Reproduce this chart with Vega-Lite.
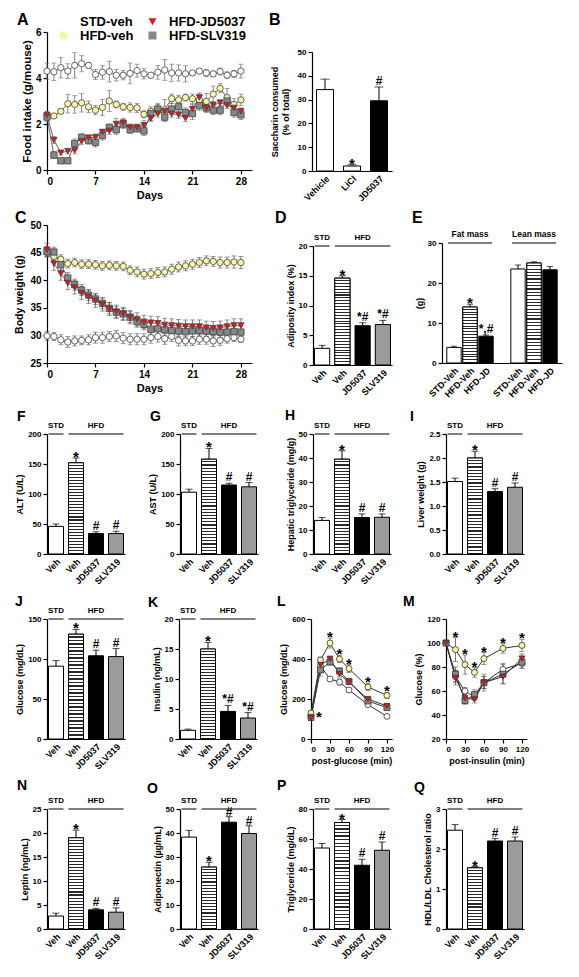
{
"$schema":"https://vega.github.io/schema/vega-lite/v6.json",
"autosize":"none",
"padding":{"left":47,"top":32,"right":532,"bottom":945},
"params":[
{"name":"h20","value":{"gradient":"linear","x1":0,"y1":0,"x2":0,"y2":1,"stops":[
{"offset":0,"color":"#fff"},{"offset":0.032,"color":"#fff"},{"offset":0.032,"color":"#2a2a2a"},{"offset":0.05,"color":"#2a2a2a"},
{"offset":0.05,"color":"#fff"},{"offset":0.082,"color":"#fff"},{"offset":0.082,"color":"#2a2a2a"},{"offset":0.1,"color":"#2a2a2a"},
{"offset":0.1,"color":"#fff"},{"offset":0.132,"color":"#fff"},{"offset":0.132,"color":"#2a2a2a"},{"offset":0.15,"color":"#2a2a2a"},
{"offset":0.15,"color":"#fff"},{"offset":0.182,"color":"#fff"},{"offset":0.182,"color":"#2a2a2a"},{"offset":0.2,"color":"#2a2a2a"},
{"offset":0.2,"color":"#fff"},{"offset":0.232,"color":"#fff"},{"offset":0.232,"color":"#2a2a2a"},{"offset":0.25,"color":"#2a2a2a"},
{"offset":0.25,"color":"#fff"},{"offset":0.282,"color":"#fff"},{"offset":0.282,"color":"#2a2a2a"},{"offset":0.3,"color":"#2a2a2a"},
{"offset":0.3,"color":"#fff"},{"offset":0.332,"color":"#fff"},{"offset":0.332,"color":"#2a2a2a"},{"offset":0.35,"color":"#2a2a2a"},
{"offset":0.35,"color":"#fff"},{"offset":0.382,"color":"#fff"},{"offset":0.382,"color":"#2a2a2a"},{"offset":0.4,"color":"#2a2a2a"},
{"offset":0.4,"color":"#fff"},{"offset":0.432,"color":"#fff"},{"offset":0.432,"color":"#2a2a2a"},{"offset":0.45,"color":"#2a2a2a"},
{"offset":0.45,"color":"#fff"},{"offset":0.482,"color":"#fff"},{"offset":0.482,"color":"#2a2a2a"},{"offset":0.5,"color":"#2a2a2a"},
{"offset":0.5,"color":"#fff"},{"offset":0.532,"color":"#fff"},{"offset":0.532,"color":"#2a2a2a"},{"offset":0.55,"color":"#2a2a2a"},
{"offset":0.55,"color":"#fff"},{"offset":0.582,"color":"#fff"},{"offset":0.582,"color":"#2a2a2a"},{"offset":0.6,"color":"#2a2a2a"},
{"offset":0.6,"color":"#fff"},{"offset":0.632,"color":"#fff"},{"offset":0.632,"color":"#2a2a2a"},{"offset":0.65,"color":"#2a2a2a"},
{"offset":0.65,"color":"#fff"},{"offset":0.682,"color":"#fff"},{"offset":0.682,"color":"#2a2a2a"},{"offset":0.7,"color":"#2a2a2a"},
{"offset":0.7,"color":"#fff"},{"offset":0.732,"color":"#fff"},{"offset":0.732,"color":"#2a2a2a"},{"offset":0.75,"color":"#2a2a2a"},
{"offset":0.75,"color":"#fff"},{"offset":0.782,"color":"#fff"},{"offset":0.782,"color":"#2a2a2a"},{"offset":0.8,"color":"#2a2a2a"},
{"offset":0.8,"color":"#fff"},{"offset":0.832,"color":"#fff"},{"offset":0.832,"color":"#2a2a2a"},{"offset":0.85,"color":"#2a2a2a"},
{"offset":0.85,"color":"#fff"},{"offset":0.882,"color":"#fff"},{"offset":0.882,"color":"#2a2a2a"},{"offset":0.9,"color":"#2a2a2a"},
{"offset":0.9,"color":"#fff"},{"offset":0.932,"color":"#fff"},{"offset":0.932,"color":"#2a2a2a"},{"offset":0.95,"color":"#2a2a2a"},
{"offset":0.95,"color":"#fff"},{"offset":0.982,"color":"#fff"},{"offset":0.982,"color":"#2a2a2a"},{"offset":1,"color":"#2a2a2a"}]}},
{"name":"h30","value":{"gradient":"linear","x1":0,"y1":0,"x2":0,"y2":1,"stops":[
{"offset":0,"color":"#fff"},{"offset":0.0217,"color":"#fff"},{"offset":0.0217,"color":"#2a2a2a"},{"offset":0.0333,"color":"#2a2a2a"},
{"offset":0.0333,"color":"#fff"},{"offset":0.055,"color":"#fff"},{"offset":0.055,"color":"#2a2a2a"},{"offset":0.0667,"color":"#2a2a2a"},
{"offset":0.0667,"color":"#fff"},{"offset":0.0883,"color":"#fff"},{"offset":0.0883,"color":"#2a2a2a"},{"offset":0.1,"color":"#2a2a2a"},
{"offset":0.1,"color":"#fff"},{"offset":0.1217,"color":"#fff"},{"offset":0.1217,"color":"#2a2a2a"},{"offset":0.1333,"color":"#2a2a2a"},
{"offset":0.1333,"color":"#fff"},{"offset":0.155,"color":"#fff"},{"offset":0.155,"color":"#2a2a2a"},{"offset":0.1667,"color":"#2a2a2a"},
{"offset":0.1667,"color":"#fff"},{"offset":0.1883,"color":"#fff"},{"offset":0.1883,"color":"#2a2a2a"},{"offset":0.2,"color":"#2a2a2a"},
{"offset":0.2,"color":"#fff"},{"offset":0.2217,"color":"#fff"},{"offset":0.2217,"color":"#2a2a2a"},{"offset":0.2333,"color":"#2a2a2a"},
{"offset":0.2333,"color":"#fff"},{"offset":0.255,"color":"#fff"},{"offset":0.255,"color":"#2a2a2a"},{"offset":0.2667,"color":"#2a2a2a"},
{"offset":0.2667,"color":"#fff"},{"offset":0.2883,"color":"#fff"},{"offset":0.2883,"color":"#2a2a2a"},{"offset":0.3,"color":"#2a2a2a"},
{"offset":0.3,"color":"#fff"},{"offset":0.3217,"color":"#fff"},{"offset":0.3217,"color":"#2a2a2a"},{"offset":0.3333,"color":"#2a2a2a"},
{"offset":0.3333,"color":"#fff"},{"offset":0.355,"color":"#fff"},{"offset":0.355,"color":"#2a2a2a"},{"offset":0.3667,"color":"#2a2a2a"},
{"offset":0.3667,"color":"#fff"},{"offset":0.3883,"color":"#fff"},{"offset":0.3883,"color":"#2a2a2a"},{"offset":0.4,"color":"#2a2a2a"},
{"offset":0.4,"color":"#fff"},{"offset":0.4217,"color":"#fff"},{"offset":0.4217,"color":"#2a2a2a"},{"offset":0.4333,"color":"#2a2a2a"},
{"offset":0.4333,"color":"#fff"},{"offset":0.455,"color":"#fff"},{"offset":0.455,"color":"#2a2a2a"},{"offset":0.4667,"color":"#2a2a2a"},
{"offset":0.4667,"color":"#fff"},{"offset":0.4883,"color":"#fff"},{"offset":0.4883,"color":"#2a2a2a"},{"offset":0.5,"color":"#2a2a2a"},
{"offset":0.5,"color":"#fff"},{"offset":0.5217,"color":"#fff"},{"offset":0.5217,"color":"#2a2a2a"},{"offset":0.5333,"color":"#2a2a2a"},
{"offset":0.5333,"color":"#fff"},{"offset":0.555,"color":"#fff"},{"offset":0.555,"color":"#2a2a2a"},{"offset":0.5667,"color":"#2a2a2a"},
{"offset":0.5667,"color":"#fff"},{"offset":0.5883,"color":"#fff"},{"offset":0.5883,"color":"#2a2a2a"},{"offset":0.6,"color":"#2a2a2a"},
{"offset":0.6,"color":"#fff"},{"offset":0.6217,"color":"#fff"},{"offset":0.6217,"color":"#2a2a2a"},{"offset":0.6333,"color":"#2a2a2a"},
{"offset":0.6333,"color":"#fff"},{"offset":0.655,"color":"#fff"},{"offset":0.655,"color":"#2a2a2a"},{"offset":0.6667,"color":"#2a2a2a"},
{"offset":0.6667,"color":"#fff"},{"offset":0.6883,"color":"#fff"},{"offset":0.6883,"color":"#2a2a2a"},{"offset":0.7,"color":"#2a2a2a"},
{"offset":0.7,"color":"#fff"},{"offset":0.7217,"color":"#fff"},{"offset":0.7217,"color":"#2a2a2a"},{"offset":0.7333,"color":"#2a2a2a"},
{"offset":0.7333,"color":"#fff"},{"offset":0.755,"color":"#fff"},{"offset":0.755,"color":"#2a2a2a"},{"offset":0.7667,"color":"#2a2a2a"},
{"offset":0.7667,"color":"#fff"},{"offset":0.7883,"color":"#fff"},{"offset":0.7883,"color":"#2a2a2a"},{"offset":0.8,"color":"#2a2a2a"},
{"offset":0.8,"color":"#fff"},{"offset":0.8217,"color":"#fff"},{"offset":0.8217,"color":"#2a2a2a"},{"offset":0.8333,"color":"#2a2a2a"},
{"offset":0.8333,"color":"#fff"},{"offset":0.855,"color":"#fff"},{"offset":0.855,"color":"#2a2a2a"},{"offset":0.8667,"color":"#2a2a2a"},
{"offset":0.8667,"color":"#fff"},{"offset":0.8883,"color":"#fff"},{"offset":0.8883,"color":"#2a2a2a"},{"offset":0.9,"color":"#2a2a2a"},
{"offset":0.9,"color":"#fff"},{"offset":0.9217,"color":"#fff"},{"offset":0.9217,"color":"#2a2a2a"},{"offset":0.9333,"color":"#2a2a2a"},
{"offset":0.9333,"color":"#fff"},{"offset":0.955,"color":"#fff"},{"offset":0.955,"color":"#2a2a2a"},{"offset":0.9667,"color":"#2a2a2a"},
{"offset":0.9667,"color":"#fff"},{"offset":0.9883,"color":"#fff"},{"offset":0.9883,"color":"#2a2a2a"},{"offset":1,"color":"#2a2a2a"}]}}
],
"config":{
"font":"Liberation Sans",
"view":{"stroke":null},
"axis":{"domainColor":"#000","domainWidth":1.2,"tickColor":"#000","tickWidth":1.2,"tickSize":4,"labelFontWeight":"bold","labelFontSize":8,"labelColor":"#000","labelPadding":2,"titleFontWeight":"bold","titleFontSize":9,"titleColor":"#000","titlePadding":3,"grid":false},
"axisBand":{"labelAngle":-45,"ticks":false,"labelFontSize":9,"labelPadding":3},
"title":{"fontSize":14,"fontWeight":"bold","anchor":"start","frame":"group","color":"#000","baseline":"alphabetic","offset":0},
"bar":{"stroke":"#000","strokeWidth":1},
"rule":{"color":"#000"},
"tick":{"color":"#000"},
"text":{"fontWeight":"bold","color":"#000"}
},
"spacing":6,
"vconcat":[
{"hconcat":[
{"width":205,"height":138,
"title":{"text":"A","dx":-30,"offset":-0.75,"fontSize":16},
"data":{"values":[
{"k":"STD-veh","d":0,"v":4.3,"e":0.35},{"k":"STD-veh","d":1,"v":4.27,"e":0.38},{"k":"STD-veh","d":2,"v":4.45,"e":0.45},{"k":"STD-veh","d":3,"v":4.3,"e":0.32},{"k":"STD-veh","d":4,"v":4.55,"e":0.55},{"k":"STD-veh","d":5,"v":4.62,"e":0.35},{"k":"STD-veh","d":6,"v":4.55,"e":0.12},{"k":"STD-veh","d":7,"v":4.15,"e":0.22},{"k":"STD-veh","d":8,"v":4.25,"e":0.3},{"k":"STD-veh","d":9,"v":4.28,"e":0.45},{"k":"STD-veh","d":10,"v":4.12,"e":0.25},{"k":"STD-veh","d":11,"v":4.12,"e":0.2},{"k":"STD-veh","d":12,"v":4.2,"e":0.45},{"k":"STD-veh","d":13,"v":4.32,"e":0.28},{"k":"STD-veh","d":14,"v":4.18,"e":0.22},{"k":"STD-veh","d":15,"v":4.12,"e":0.12},{"k":"STD-veh","d":16,"v":4.25,"e":0.3},{"k":"STD-veh","d":17,"v":4.35,"e":0.45},{"k":"STD-veh","d":18,"v":4.22,"e":0.38},{"k":"STD-veh","d":19,"v":4.22,"e":0.35},{"k":"STD-veh","d":20,"v":4.18,"e":0.35},{"k":"STD-veh","d":21,"v":4.22,"e":0.1},{"k":"STD-veh","d":22,"v":4.3,"e":0.1},{"k":"STD-veh","d":23,"v":4.22,"e":0.15},{"k":"STD-veh","d":24,"v":4.18,"e":0.12},{"k":"STD-veh","d":25,"v":4.28,"e":0.15},{"k":"STD-veh","d":26,"v":4.12,"e":0.15},{"k":"STD-veh","d":27,"v":4.18,"e":0.15},{"k":"STD-veh","d":28,"v":4.3,"e":0.3},
{"k":"HFD-veh","d":0,"v":2.4,"e":0.12},{"k":"HFD-veh","d":1,"v":2.35,"e":0.1},{"k":"HFD-veh","d":2,"v":2.55,"e":0.1},{"k":"HFD-veh","d":3,"v":2.88,"e":0.4},{"k":"HFD-veh","d":4,"v":2.85,"e":0.38},{"k":"HFD-veh","d":5,"v":2.92,"e":0.4},{"k":"HFD-veh","d":6,"v":2.75,"e":0.25},{"k":"HFD-veh","d":7,"v":2.6,"e":0.2},{"k":"HFD-veh","d":8,"v":2.72,"e":0.35},{"k":"HFD-veh","d":9,"v":3.0,"e":0.45},{"k":"HFD-veh","d":10,"v":2.85,"e":0.15},{"k":"HFD-veh","d":11,"v":2.75,"e":0.15},{"k":"HFD-veh","d":12,"v":2.72,"e":0.2},{"k":"HFD-veh","d":13,"v":2.7,"e":0.2},{"k":"HFD-veh","d":14,"v":2.42,"e":0.15},{"k":"HFD-veh","d":15,"v":2.55,"e":0.1},{"k":"HFD-veh","d":16,"v":2.65,"e":0.2},{"k":"HFD-veh","d":17,"v":2.62,"e":0.45},{"k":"HFD-veh","d":18,"v":3.1,"e":0.2},{"k":"HFD-veh","d":19,"v":3.05,"e":0.2},{"k":"HFD-veh","d":20,"v":3.15,"e":0.15},{"k":"HFD-veh","d":21,"v":3.1,"e":0.2},{"k":"HFD-veh","d":22,"v":3.05,"e":0.3},{"k":"HFD-veh","d":23,"v":2.98,"e":0.35},{"k":"HFD-veh","d":24,"v":3.3,"e":0.35},{"k":"HFD-veh","d":25,"v":3.55,"e":0.2},{"k":"HFD-veh","d":26,"v":3.15,"e":0.4},{"k":"HFD-veh","d":27,"v":2.85,"e":0.25},{"k":"HFD-veh","d":28,"v":3.05,"e":0.25},
{"k":"HFD-SLV319","d":0,"v":2.3,"e":0.2},{"k":"HFD-SLV319","d":1,"v":0.65,"e":0.15},{"k":"HFD-SLV319","d":2,"v":0.4,"e":0.1},{"k":"HFD-SLV319","d":3,"v":0.4,"e":0.1},{"k":"HFD-SLV319","d":4,"v":1.15,"e":0.2},{"k":"HFD-SLV319","d":5,"v":1.42,"e":0.15},{"k":"HFD-SLV319","d":6,"v":1.28,"e":0.15},{"k":"HFD-SLV319","d":7,"v":1.2,"e":0.2},{"k":"HFD-SLV319","d":8,"v":1.5,"e":0.2},{"k":"HFD-SLV319","d":9,"v":1.85,"e":0.15},{"k":"HFD-SLV319","d":10,"v":1.75,"e":0.2},{"k":"HFD-SLV319","d":11,"v":2.0,"e":0.2},{"k":"HFD-SLV319","d":12,"v":1.75,"e":0.15},{"k":"HFD-SLV319","d":13,"v":1.8,"e":0.15},{"k":"HFD-SLV319","d":14,"v":1.7,"e":0.2},{"k":"HFD-SLV319","d":15,"v":2.45,"e":0.3},{"k":"HFD-SLV319","d":16,"v":2.65,"e":0.25},{"k":"HFD-SLV319","d":17,"v":2.3,"e":0.2},{"k":"HFD-SLV319","d":18,"v":2.65,"e":0.25},{"k":"HFD-SLV319","d":19,"v":2.75,"e":0.25},{"k":"HFD-SLV319","d":20,"v":2.5,"e":0.2},{"k":"HFD-SLV319","d":21,"v":2.45,"e":0.25},{"k":"HFD-SLV319","d":22,"v":2.8,"e":0.2},{"k":"HFD-SLV319","d":23,"v":2.7,"e":0.2},{"k":"HFD-SLV319","d":24,"v":2.6,"e":0.2},{"k":"HFD-SLV319","d":25,"v":2.6,"e":0.2},{"k":"HFD-SLV319","d":26,"v":3.0,"e":0.2},{"k":"HFD-SLV319","d":27,"v":2.5,"e":0.2},{"k":"HFD-SLV319","d":28,"v":2.4,"e":0.2},
{"k":"HFD-JD5037","d":0,"v":2.38,"e":0.15},{"k":"HFD-JD5037","d":1,"v":1.3,"e":0.15},{"k":"HFD-JD5037","d":2,"v":0.75,"e":0.1},{"k":"HFD-JD5037","d":3,"v":0.82,"e":0.12},{"k":"HFD-JD5037","d":4,"v":0.85,"e":0.15},{"k":"HFD-JD5037","d":5,"v":1.25,"e":0.15},{"k":"HFD-JD5037","d":6,"v":1.4,"e":0.12},{"k":"HFD-JD5037","d":7,"v":1.42,"e":0.15},{"k":"HFD-JD5037","d":8,"v":1.65,"e":0.12},{"k":"HFD-JD5037","d":9,"v":1.7,"e":0.15},{"k":"HFD-JD5037","d":10,"v":2.0,"e":0.25},{"k":"HFD-JD5037","d":11,"v":2.05,"e":0.2},{"k":"HFD-JD5037","d":12,"v":1.85,"e":0.15},{"k":"HFD-JD5037","d":13,"v":1.85,"e":0.15},{"k":"HFD-JD5037","d":14,"v":1.95,"e":0.2},{"k":"HFD-JD5037","d":15,"v":2.25,"e":0.15},{"k":"HFD-JD5037","d":16,"v":2.45,"e":0.15},{"k":"HFD-JD5037","d":17,"v":2.55,"e":0.15},{"k":"HFD-JD5037","d":18,"v":2.45,"e":0.15},{"k":"HFD-JD5037","d":19,"v":2.4,"e":0.15},{"k":"HFD-JD5037","d":20,"v":2.25,"e":0.15},{"k":"HFD-JD5037","d":21,"v":2.65,"e":0.2},{"k":"HFD-JD5037","d":22,"v":3.15,"e":0.15},{"k":"HFD-JD5037","d":23,"v":2.7,"e":0.15},{"k":"HFD-JD5037","d":24,"v":2.82,"e":0.15},{"k":"HFD-JD5037","d":25,"v":2.92,"e":0.15},{"k":"HFD-JD5037","d":26,"v":2.82,"e":0.15},{"k":"HFD-JD5037","d":27,"v":2.7,"e":0.15},{"k":"HFD-JD5037","d":28,"v":2.55,"e":0.15}
]},
"encoding":{
"x":{"field":"d","type":"quantitative","scale":{"domain":[0,29.6],"nice":false},"axis":{"values":[0,7,14,21,28],"title":"Days","labelFontSize":10,"titleFontSize":11}},
"y":{"field":"v","type":"quantitative","scale":{"domain":[0,6],"nice":false},"axis":{"values":[0,2,4,6],"title":"Food intake (g/mouse)","labelFontSize":10,"titleFontSize":11.5}}},
"layer":[
{"mark":{"type":"line","color":"#444","strokeWidth":0.8},"encoding":{"detail":{"field":"k"}}},
{"mark":{"type":"errorbar","ticks":true,"size":5,"thickness":0.8,"color":"#666"},"encoding":{"yError":{"field":"e"}}},
{"mark":{"type":"point","filled":true,"size":40,"stroke":"#444","strokeWidth":0.8,"opacity":1},"encoding":{
"fill":{"field":"k","type":"nominal","scale":{"domain":["STD-veh","HFD-JD5037","HFD-veh","HFD-SLV319"],"range":["#ffffff","#e4151c","#f8f6a6","#888888"]},"legend":{"orient":"none","legendX":10,"legendY":-17,"columns":2,"direction":"horizontal","title":null,"labelFontSize":13,"labelFontWeight":"bold","labelColor":"#000","symbolSize":64,"symbolStrokeColor":"#444","symbolStrokeWidth":1,"columnPadding":12,"rowPadding":0,"labelOffset":10,"padding":0}},
"shape":{"field":"k","type":"nominal","scale":{"domain":["STD-veh","HFD-JD5037","HFD-veh","HFD-SLV319"],"range":["circle","triangle-down","circle","square"]},"legend":{"orient":"none","legendX":10,"legendY":-17,"columns":2,"direction":"horizontal","title":null,"labelFontSize":13,"labelFontWeight":"bold","labelColor":"#000","symbolSize":64,"symbolStrokeColor":"#444","symbolStrokeWidth":1,"columnPadding":12,"rowPadding":0,"labelOffset":10,"padding":0}}}}
]},
{"width":80,"height":139,
"title":{"text":"B","dx":-43,"offset":4.25,"fontSize":16},
"data":{"values":[{"g":"Vehicle","v":34.2,"hi":38.6,"s":""},{"g":"LiCl","v":2.1,"hi":2.6,"s":"*"},{"g":"JD5037","v":29.5,"hi":35.3,"s":"#"}]},
"encoding":{
"x":{"field":"g","type":"nominal","scale":{"domain":["Vehicle","LiCl","JD5037"],"paddingInner":0.37,"paddingOuter":0.167},"axis":{"title":null}},
"y":{"field":"v","type":"quantitative","scale":{"domain":[0,50],"nice":false,"range":[139,20]},"axis":{"values":[0,10,20,30,40,50],"title":["Saccharin consumed","(% of total)"],"titlePadding":7}}},
"layer":[
{"mark":"rule","encoding":{"y2":{"field":"hi"}}},
{"mark":{"type":"tick","size":9,"thickness":1},"encoding":{"y":{"field":"hi","type":"quantitative"}}},
{"mark":"bar","encoding":{"fill":{"condition":[{"test":"datum.g=='JD5037'","value":"#000"}],"value":"#fff"}}},
{"transform":[{"filter":"datum.s=='*'"}],"mark":{"type":"text","baseline":"alphabetic","dy":4,"fontSize":15},"encoding":{"y":{"field":"hi","type":"quantitative"},"text":{"field":"s"}}},
{"transform":[{"filter":"datum.s!='*' && datum.s!=''"}],"mark":{"type":"text","baseline":"alphabetic","dy":-2,"fontSize":12},"encoding":{"y":{"field":"hi","type":"quantitative"},"text":{"field":"s"}}}
]}
],"spacing":60,"bounds":"flush"},
{"spacing":10,"vconcat":[
{"hconcat":[
{"width":216,"height":138,
"title":{"text":"C","dx":-32,"offset":-5.75,"fontSize":16},
"data":{"values":[
{"k":"STD-veh","d":0,"v":29.9,"e":0.8},{"k":"STD-veh","d":1,"v":29.8,"e":0.7},{"k":"STD-veh","d":2,"v":29.2,"e":0.9},{"k":"STD-veh","d":3,"v":28.8,"e":1.0},{"k":"STD-veh","d":4,"v":29.0,"e":0.9},{"k":"STD-veh","d":5,"v":29.1,"e":0.8},{"k":"STD-veh","d":6,"v":29.2,"e":0.9},{"k":"STD-veh","d":7,"v":29.6,"e":1.0},{"k":"STD-veh","d":8,"v":29.6,"e":1.0},{"k":"STD-veh","d":9,"v":29.8,"e":0.9},{"k":"STD-veh","d":10,"v":29.9,"e":1.0},{"k":"STD-veh","d":11,"v":29.5,"e":1.0},{"k":"STD-veh","d":12,"v":29.3,"e":1.0},{"k":"STD-veh","d":13,"v":29.3,"e":1.0},{"k":"STD-veh","d":14,"v":29.3,"e":1.0},{"k":"STD-veh","d":15,"v":29.6,"e":1.0},{"k":"STD-veh","d":16,"v":29.8,"e":1.0},{"k":"STD-veh","d":17,"v":29.4,"e":1.0},{"k":"STD-veh","d":18,"v":29.8,"e":0.9},{"k":"STD-veh","d":19,"v":29.1,"e":1.0},{"k":"STD-veh","d":20,"v":29.0,"e":0.9},{"k":"STD-veh","d":21,"v":29.0,"e":0.8},{"k":"STD-veh","d":22,"v":29.3,"e":0.9},{"k":"STD-veh","d":23,"v":29.3,"e":0.9},{"k":"STD-veh","d":24,"v":29.0,"e":1.0},{"k":"STD-veh","d":25,"v":29.1,"e":0.9},{"k":"STD-veh","d":26,"v":29.4,"e":0.8},{"k":"STD-veh","d":27,"v":29.6,"e":0.7},{"k":"STD-veh","d":28,"v":29.3,"e":0.6},
{"k":"HFD-veh","d":0,"v":45.0,"e":0.8},{"k":"HFD-veh","d":1,"v":44.3,"e":0.8},{"k":"HFD-veh","d":2,"v":43.8,"e":0.8},{"k":"HFD-veh","d":3,"v":43.0,"e":0.8},{"k":"HFD-veh","d":4,"v":43.2,"e":0.8},{"k":"HFD-veh","d":5,"v":42.9,"e":0.8},{"k":"HFD-veh","d":6,"v":42.9,"e":0.8},{"k":"HFD-veh","d":7,"v":42.8,"e":0.8},{"k":"HFD-veh","d":8,"v":42.6,"e":0.8},{"k":"HFD-veh","d":9,"v":42.7,"e":0.8},{"k":"HFD-veh","d":10,"v":42.6,"e":0.8},{"k":"HFD-veh","d":11,"v":42.5,"e":0.8},{"k":"HFD-veh","d":12,"v":41.8,"e":0.8},{"k":"HFD-veh","d":13,"v":41.5,"e":0.9},{"k":"HFD-veh","d":14,"v":41.1,"e":0.9},{"k":"HFD-veh","d":15,"v":41.2,"e":0.9},{"k":"HFD-veh","d":16,"v":41.4,"e":0.9},{"k":"HFD-veh","d":17,"v":41.5,"e":0.9},{"k":"HFD-veh","d":18,"v":42.0,"e":0.9},{"k":"HFD-veh","d":19,"v":42.4,"e":0.9},{"k":"HFD-veh","d":20,"v":42.6,"e":0.9},{"k":"HFD-veh","d":21,"v":42.9,"e":0.9},{"k":"HFD-veh","d":22,"v":43.2,"e":0.9},{"k":"HFD-veh","d":23,"v":43.5,"e":0.9},{"k":"HFD-veh","d":24,"v":43.4,"e":0.9},{"k":"HFD-veh","d":25,"v":43.2,"e":1.0},{"k":"HFD-veh","d":26,"v":43.2,"e":1.0},{"k":"HFD-veh","d":27,"v":43.3,"e":1.1},{"k":"HFD-veh","d":28,"v":43.2,"e":1.1},
{"k":"HFD-SLV319","d":0,"v":45.2,"e":0.9},{"k":"HFD-SLV319","d":1,"v":45.1,"e":0.9},{"k":"HFD-SLV319","d":2,"v":42.8,"e":1.0},{"k":"HFD-SLV319","d":3,"v":40.4,"e":1.0},{"k":"HFD-SLV319","d":4,"v":39.2,"e":1.0},{"k":"HFD-SLV319","d":5,"v":38.2,"e":1.0},{"k":"HFD-SLV319","d":6,"v":37.3,"e":1.0},{"k":"HFD-SLV319","d":7,"v":36.6,"e":1.0},{"k":"HFD-SLV319","d":8,"v":35.8,"e":1.0},{"k":"HFD-SLV319","d":9,"v":34.9,"e":1.0},{"k":"HFD-SLV319","d":10,"v":34.2,"e":1.0},{"k":"HFD-SLV319","d":11,"v":33.9,"e":1.0},{"k":"HFD-SLV319","d":12,"v":33.3,"e":1.0},{"k":"HFD-SLV319","d":13,"v":32.5,"e":1.0},{"k":"HFD-SLV319","d":14,"v":32.0,"e":1.0},{"k":"HFD-SLV319","d":15,"v":31.1,"e":1.0},{"k":"HFD-SLV319","d":16,"v":31.2,"e":1.0},{"k":"HFD-SLV319","d":17,"v":31.0,"e":1.0},{"k":"HFD-SLV319","d":18,"v":30.9,"e":1.0},{"k":"HFD-SLV319","d":19,"v":30.8,"e":1.0},{"k":"HFD-SLV319","d":20,"v":30.7,"e":1.0},{"k":"HFD-SLV319","d":21,"v":30.8,"e":1.0},{"k":"HFD-SLV319","d":22,"v":30.9,"e":1.0},{"k":"HFD-SLV319","d":23,"v":30.8,"e":1.0},{"k":"HFD-SLV319","d":24,"v":30.7,"e":1.0},{"k":"HFD-SLV319","d":25,"v":30.6,"e":1.0},{"k":"HFD-SLV319","d":26,"v":30.6,"e":1.0},{"k":"HFD-SLV319","d":27,"v":30.7,"e":1.0},{"k":"HFD-SLV319","d":28,"v":30.6,"e":1.0},
{"k":"HFD-JD5037","d":0,"v":45.5,"e":1.2},{"k":"HFD-JD5037","d":1,"v":43.0,"e":1.2},{"k":"HFD-JD5037","d":2,"v":41.2,"e":1.2},{"k":"HFD-JD5037","d":3,"v":39.5,"e":1.2},{"k":"HFD-JD5037","d":4,"v":38.7,"e":1.2},{"k":"HFD-JD5037","d":5,"v":37.7,"e":1.2},{"k":"HFD-JD5037","d":6,"v":37.0,"e":1.2},{"k":"HFD-JD5037","d":7,"v":36.3,"e":1.2},{"k":"HFD-JD5037","d":8,"v":35.6,"e":1.2},{"k":"HFD-JD5037","d":9,"v":34.8,"e":1.2},{"k":"HFD-JD5037","d":10,"v":34.3,"e":1.2},{"k":"HFD-JD5037","d":11,"v":33.9,"e":1.2},{"k":"HFD-JD5037","d":12,"v":33.3,"e":1.2},{"k":"HFD-JD5037","d":13,"v":32.9,"e":1.2},{"k":"HFD-JD5037","d":14,"v":32.4,"e":1.2},{"k":"HFD-JD5037","d":15,"v":32.3,"e":1.2},{"k":"HFD-JD5037","d":16,"v":32.2,"e":1.2},{"k":"HFD-JD5037","d":17,"v":31.9,"e":1.2},{"k":"HFD-JD5037","d":18,"v":31.8,"e":1.2},{"k":"HFD-JD5037","d":19,"v":31.7,"e":1.2},{"k":"HFD-JD5037","d":20,"v":31.6,"e":1.2},{"k":"HFD-JD5037","d":21,"v":31.6,"e":1.2},{"k":"HFD-JD5037","d":22,"v":31.6,"e":1.2},{"k":"HFD-JD5037","d":23,"v":31.4,"e":1.2},{"k":"HFD-JD5037","d":24,"v":31.3,"e":1.2},{"k":"HFD-JD5037","d":25,"v":31.4,"e":1.2},{"k":"HFD-JD5037","d":26,"v":31.6,"e":1.2},{"k":"HFD-JD5037","d":27,"v":31.8,"e":1.2},{"k":"HFD-JD5037","d":28,"v":31.8,"e":1.2}
]},
"encoding":{
"x":{"field":"d","type":"quantitative","scale":{"domain":[0,29.6],"nice":false,"range":[0,205]},"axis":{"values":[0,7,14,21,28],"title":"Days","labelFontSize":10,"titleFontSize":11}},
"y":{"field":"v","type":"quantitative","scale":{"domain":[25,50],"nice":false,"zero":false},"axis":{"values":[25,30,35,40,45,50],"title":"Body weight (g)","labelFontSize":10,"titleFontSize":10.5,"titlePadding":5}}},
"layer":[
{"mark":{"type":"line","color":"#444","strokeWidth":0.8},"encoding":{"detail":{"field":"k"}}},
{"mark":{"type":"errorbar","ticks":true,"size":5,"thickness":0.8,"color":"#555"},"encoding":{"yError":{"field":"e"}}},
{"mark":{"type":"point","filled":true,"size":40,"stroke":"#444","strokeWidth":0.8,"opacity":1},"encoding":{
"fill":{"field":"k","type":"nominal","scale":{"domain":["STD-veh","HFD-JD5037","HFD-veh","HFD-SLV319"],"range":["#ffffff","#e4151c","#f8f6a6","#888888"]},"legend":null},
"shape":{"field":"k","type":"nominal","scale":{"domain":["STD-veh","HFD-JD5037","HFD-veh","HFD-SLV319"],"range":["circle","triangle-down","circle","square"]},"legend":null}}}
]},
{"width":79,"height":140,
"title":{"text":"D","dx":-38,"offset":-0.75,"fontSize":16},
"data":{"values":[{"g":"STD Veh","v":2.8,"hi":3.3,"s":""},{"g":"HFD Veh","v":14.6,"hi":15.0,"s":"*"},{"g":"JD5037","v":6.6,"hi":7.1,"s":"*#"},{"g":"SLV319","v":6.8,"hi":7.5,"s":"*#"}]},
"encoding":{
"x":{"field":"g","type":"nominal","scale":{"domain":["STD Veh","HFD Veh","JD5037","SLV319"],"paddingInner":0.25,"paddingOuter":0.075},"axis":{"title":null,"labelExpr":"indexof(datum.label,'Veh')>=0?'Veh':datum.label"}},
"y":{"field":"v","type":"quantitative","scale":{"domain":[0,20],"nice":false,"range":[140,21]},"axis":{"values":[0,5,10,15,20],"title":"Adiposity index (%)"}}},
"layer":[
{"mark":"rule","encoding":{"y2":{"field":"hi"}}},
{"mark":{"type":"tick","size":7,"thickness":1},"encoding":{"y":{"field":"hi","type":"quantitative"}}},
{"mark":"bar","encoding":{"fill":{"condition":[{"test":"datum.g=='JD5037'","value":"#000"},{"test":"datum.g=='SLV319'","value":"#9b9b9b"}],"value":"#fff"}}},
{"transform":[{"filter":"datum.g=='HFD Veh'"}],"mark":{"type":"bar","fill":{"expr":"h30"}}},
{"transform":[{"filter":"datum.s=='*'"}],"mark":{"type":"text","baseline":"alphabetic","dy":4,"fontSize":15},"encoding":{"y":{"field":"hi","type":"quantitative"},"text":{"field":"s"}}},
{"transform":[{"filter":"datum.s!='*' && datum.s!=''"}],"mark":{"type":"text","baseline":"alphabetic","dy":-2,"fontSize":12},"encoding":{"y":{"field":"hi","type":"quantitative"},"text":{"field":"s"}}},
{"data":{"values":[{"g":"STD Veh","g2":"STD Veh","m":"STD Veh","lab":"STD","top":20},{"g":"HFD Veh","g2":"SLV319","m":"JD5037","lab":"HFD","top":20}]},
"layer":[
{"mark":{"type":"rule","xOffset":-7.5,"x2Offset":7.5},"encoding":{"x2":{"field":"g2"},"y":{"field":"top","type":"quantitative"}}},
{"mark":{"type":"text","baseline":"alphabetic","dy":-6,"fontSize":8},"encoding":{"x":{"field":"m","type":"nominal","scale":{"domain":["STD Veh","HFD Veh","JD5037","SLV319"]}},"y":{"field":"top","type":"quantitative"},"text":{"field":"lab"}}}]}
]},
{"width":120,"height":138,
"title":{"text":"E","dx":-30,"offset":-0.75,"fontSize":16},
"data":{"values":[{"g":"STD-Veh F","v":3.9,"hi":4.2,"s":""},{"g":"HFD-Veh F","v":14.0,"hi":14.7,"s":"*"},{"g":"HFD-JD F","v":6.7,"hi":7.0,"s":"*,#"},{"g":"STD-Veh L","v":23.5,"hi":24.5,"s":""},{"g":"HFD-Veh L","v":25.0,"hi":25.3,"s":""},{"g":"HFD-JD L","v":23.3,"hi":24.1,"s":""}]},
"encoding":{
"x":{"field":"g","type":"nominal","scale":{"domain":["STD-Veh F","HFD-Veh F","HFD-JD F","gap","STD-Veh L","HFD-Veh L","HFD-JD L"],"paddingInner":0.1,"paddingOuter":0.3},"axis":{"title":null,"labelExpr":"datum.label=='gap'?'':split(datum.label,' ')[0]"}},
"y":{"field":"v","type":"quantitative","scale":{"domain":[0,30],"nice":false,"range":[138,18]},"axis":{"values":[0,10,20,30],"title":"(g)"}}},
"layer":[
{"mark":"rule","encoding":{"y2":{"field":"hi"}}},
{"mark":{"type":"tick","size":6,"thickness":1},"encoding":{"y":{"field":"hi","type":"quantitative"}}},
{"mark":"bar","encoding":{"fill":{"condition":[{"test":"indexof(datum.g,'HFD-JD')==0","value":"#000"}],"value":"#fff"}}},
{"transform":[{"filter":"datum.g=='HFD-Veh F'"}],"mark":{"type":"bar","fill":{"expr":"h20"}}},
{"transform":[{"filter":"datum.g=='HFD-Veh L'"}],"mark":{"type":"bar","fill":{"expr":"h30"}}},
{"transform":[{"filter":"datum.s=='*'"}],"mark":{"type":"text","baseline":"alphabetic","dy":4,"fontSize":15},"encoding":{"y":{"field":"hi","type":"quantitative"},"text":{"field":"s"}}},
{"transform":[{"filter":"datum.s!='*' && datum.s!=''"}],"mark":{"type":"text","baseline":"alphabetic","dy":-2,"fontSize":12},"encoding":{"y":{"field":"hi","type":"quantitative"},"text":{"field":"s"}}},
{"data":{"values":[{"g":"STD-Veh F","g2":"HFD-JD F","m":"HFD-Veh F","lab":"Fat mass","top":30},{"g":"STD-Veh L","g2":"HFD-JD L","m":"HFD-Veh L","lab":"Lean mass","top":30}]},
"layer":[
{"mark":{"type":"rule","xOffset":-6,"x2Offset":6},"encoding":{"x2":{"field":"g2"},"y":{"field":"top","type":"quantitative"}}},
{"mark":{"type":"text","baseline":"alphabetic","dy":-6,"fontSize":8.5},"encoding":{"x":{"field":"m","type":"nominal","scale":{"domain":["STD-Veh F","HFD-Veh F","HFD-JD F","gap","STD-Veh L","HFD-Veh L","HFD-JD L"]}},"y":{"field":"top","type":"quantitative"},"text":{"field":"lab"}}}]}
]}
],"spacing":50,"bounds":"flush"},
{"spacing":9,"vconcat":[
{"hconcat":[
{"width":78,"height":120,"title":{"text":"F","dx":-30,"offset":-2.4},
"data":{"values":[{"g":"STD Veh","v":46,"hi":50,"s":""},{"g":"HFD Veh","v":152,"hi":160,"s":"*"},{"g":"JD5037","v":34,"hi":37,"s":"#"},{"g":"SLV319","v":34,"hi":38,"s":"#"}]},
"encoding":{
"x":{"field":"g","type":"nominal","scale":{"domain":["STD Veh","HFD Veh","JD5037","SLV319"],"paddingInner":0.25,"paddingOuter":0.075},"axis":{"title":null,"labelExpr":"indexof(datum.label,'Veh')>=0?'Veh':datum.label"}},
"y":{"field":"v","type":"quantitative","scale":{"domain":[0,200],"nice":false},"axis":{"values":[0,50,100,150,200],"title":"ALT (U/L)"}}},
"layer":[
{"mark":"rule","encoding":{"y2":{"field":"hi"}}},
{"mark":{"type":"tick","size":7,"thickness":1},"encoding":{"y":{"field":"hi","type":"quantitative"}}},
{"mark":"bar","encoding":{"fill":{"condition":[{"test":"datum.g=='JD5037'","value":"#000"},{"test":"datum.g=='SLV319'","value":"#9b9b9b"}],"value":"#fff"}}},
{"transform":[{"filter":"datum.g=='HFD Veh'"}],"mark":{"type":"bar","fill":{"expr":"h30"}}},
{"transform":[{"filter":"datum.s=='*'"}],"mark":{"type":"text","baseline":"alphabetic","dy":4,"fontSize":15},"encoding":{"y":{"field":"hi","type":"quantitative"},"text":{"field":"s"}}},
{"transform":[{"filter":"datum.s!='*' && datum.s!=''"}],"mark":{"type":"text","baseline":"alphabetic","dy":-2,"fontSize":12},"encoding":{"y":{"field":"hi","type":"quantitative"},"text":{"field":"s"}}},
{"data":{"values":[{"g":"STD Veh","g2":"STD Veh","m":"STD Veh","lab":"STD","top":200},{"g":"HFD Veh","g2":"SLV319","m":"JD5037","lab":"HFD","top":200}]},
"layer":[
{"mark":{"type":"rule","xOffset":-7.5,"x2Offset":7.5},"encoding":{"x2":{"field":"g2"},"y":{"field":"top","type":"quantitative"}}},
{"mark":{"type":"text","baseline":"alphabetic","dy":-6,"fontSize":8},"encoding":{"x":{"field":"m","type":"nominal","scale":{"domain":["STD Veh","HFD Veh","JD5037","SLV319"]}},"y":{"field":"top","type":"quantitative"},"text":{"field":"lab"}}}]}
]},
{"width":78,"height":120,"title":{"text":"G","dx":-30,"offset":-2.4},
"data":{"values":[{"g":"STD Veh","v":103,"hi":108,"s":""},{"g":"HFD Veh","v":158,"hi":176,"s":"*"},{"g":"JD5037","v":115,"hi":118,"s":"#"},{"g":"SLV319","v":112,"hi":119,"s":"#"}]},
"encoding":{
"x":{"field":"g","type":"nominal","scale":{"domain":["STD Veh","HFD Veh","JD5037","SLV319"],"paddingInner":0.25,"paddingOuter":0.075},"axis":{"title":null,"labelExpr":"indexof(datum.label,'Veh')>=0?'Veh':datum.label"}},
"y":{"field":"v","type":"quantitative","scale":{"domain":[0,200],"nice":false},"axis":{"values":[0,50,100,150,200],"title":"AST (U/L)"}}},
"layer":[
{"mark":"rule","encoding":{"y2":{"field":"hi"}}},
{"mark":{"type":"tick","size":7,"thickness":1},"encoding":{"y":{"field":"hi","type":"quantitative"}}},
{"mark":"bar","encoding":{"fill":{"condition":[{"test":"datum.g=='JD5037'","value":"#000"},{"test":"datum.g=='SLV319'","value":"#9b9b9b"}],"value":"#fff"}}},
{"transform":[{"filter":"datum.g=='HFD Veh'"}],"mark":{"type":"bar","fill":{"expr":"h30"}}},
{"transform":[{"filter":"datum.s=='*'"}],"mark":{"type":"text","baseline":"alphabetic","dy":4,"fontSize":15},"encoding":{"y":{"field":"hi","type":"quantitative"},"text":{"field":"s"}}},
{"transform":[{"filter":"datum.s!='*' && datum.s!=''"}],"mark":{"type":"text","baseline":"alphabetic","dy":-2,"fontSize":12},"encoding":{"y":{"field":"hi","type":"quantitative"},"text":{"field":"s"}}},
{"data":{"values":[{"g":"STD Veh","g2":"STD Veh","m":"STD Veh","lab":"STD","top":200},{"g":"HFD Veh","g2":"SLV319","m":"JD5037","lab":"HFD","top":200}]},
"layer":[
{"mark":{"type":"rule","xOffset":-7.5,"x2Offset":7.5},"encoding":{"x2":{"field":"g2"},"y":{"field":"top","type":"quantitative"}}},
{"mark":{"type":"text","baseline":"alphabetic","dy":-6,"fontSize":8},"encoding":{"x":{"field":"m","type":"nominal","scale":{"domain":["STD Veh","HFD Veh","JD5037","SLV319"]}},"y":{"field":"top","type":"quantitative"},"text":{"field":"lab"}}}]}
]},
{"width":78,"height":120,"title":{"text":"H","dx":-28,"offset":-1.4},
"data":{"values":[{"g":"STD Veh","v":14,"hi":15.2,"s":""},{"g":"HFD Veh","v":39.5,"hi":43,"s":"*"},{"g":"JD5037","v":15.2,"hi":16.7,"s":"#"},{"g":"SLV319","v":15.3,"hi":16.7,"s":"#"}]},
"encoding":{
"x":{"field":"g","type":"nominal","scale":{"domain":["STD Veh","HFD Veh","JD5037","SLV319"],"paddingInner":0.25,"paddingOuter":0.075},"axis":{"title":null,"labelExpr":"indexof(datum.label,'Veh')>=0?'Veh':datum.label"}},
"y":{"field":"v","type":"quantitative","scale":{"domain":[0,50],"nice":false},"axis":{"values":[0,10,20,30,40,50],"title":"Hepatic triglyceride (mg/g)"}}},
"layer":[
{"mark":"rule","encoding":{"y2":{"field":"hi"}}},
{"mark":{"type":"tick","size":7,"thickness":1},"encoding":{"y":{"field":"hi","type":"quantitative"}}},
{"mark":"bar","encoding":{"fill":{"condition":[{"test":"datum.g=='JD5037'","value":"#000"},{"test":"datum.g=='SLV319'","value":"#9b9b9b"}],"value":"#fff"}}},
{"transform":[{"filter":"datum.g=='HFD Veh'"}],"mark":{"type":"bar","fill":{"expr":"h30"}}},
{"transform":[{"filter":"datum.s=='*'"}],"mark":{"type":"text","baseline":"alphabetic","dy":4,"fontSize":15},"encoding":{"y":{"field":"hi","type":"quantitative"},"text":{"field":"s"}}},
{"transform":[{"filter":"datum.s!='*' && datum.s!=''"}],"mark":{"type":"text","baseline":"alphabetic","dy":-2,"fontSize":12},"encoding":{"y":{"field":"hi","type":"quantitative"},"text":{"field":"s"}}},
{"data":{"values":[{"g":"STD Veh","g2":"STD Veh","m":"STD Veh","lab":"STD","top":50},{"g":"HFD Veh","g2":"SLV319","m":"JD5037","lab":"HFD","top":50}]},
"layer":[
{"mark":{"type":"rule","xOffset":-7.5,"x2Offset":7.5},"encoding":{"x2":{"field":"g2"},"y":{"field":"top","type":"quantitative"}}},
{"mark":{"type":"text","baseline":"alphabetic","dy":-6,"fontSize":8},"encoding":{"x":{"field":"m","type":"nominal","scale":{"domain":["STD Veh","HFD Veh","JD5037","SLV319"]}},"y":{"field":"top","type":"quantitative"},"text":{"field":"lab"}}}]}
]},
{"width":78,"height":120,"title":{"text":"I","dx":-36,"offset":-2.4},
"data":{"values":[{"g":"STD Veh","v":1.51,"hi":1.58,"s":""},{"g":"HFD Veh","v":2.0,"hi":2.14,"s":"*"},{"g":"JD5037","v":1.3,"hi":1.36,"s":"#"},{"g":"SLV319","v":1.39,"hi":1.48,"s":"#"}]},
"encoding":{
"x":{"field":"g","type":"nominal","scale":{"domain":["STD Veh","HFD Veh","JD5037","SLV319"],"paddingInner":0.25,"paddingOuter":0.075},"axis":{"title":null,"labelExpr":"indexof(datum.label,'Veh')>=0?'Veh':datum.label"}},
"y":{"field":"v","type":"quantitative","scale":{"domain":[0,2.5],"nice":false},"axis":{"values":[0,0.5,1,1.5,2,2.5],"format":".1f","title":"Liver weight (g)"}}},
"layer":[
{"mark":"rule","encoding":{"y2":{"field":"hi"}}},
{"mark":{"type":"tick","size":7,"thickness":1},"encoding":{"y":{"field":"hi","type":"quantitative"}}},
{"mark":"bar","encoding":{"fill":{"condition":[{"test":"datum.g=='JD5037'","value":"#000"},{"test":"datum.g=='SLV319'","value":"#9b9b9b"}],"value":"#fff"}}},
{"transform":[{"filter":"datum.g=='HFD Veh'"}],"mark":{"type":"bar","fill":{"expr":"h30"}}},
{"transform":[{"filter":"datum.s=='*'"}],"mark":{"type":"text","baseline":"alphabetic","dy":4,"fontSize":15},"encoding":{"y":{"field":"hi","type":"quantitative"},"text":{"field":"s"}}},
{"transform":[{"filter":"datum.s!='*' && datum.s!=''"}],"mark":{"type":"text","baseline":"alphabetic","dy":-2,"fontSize":12},"encoding":{"y":{"field":"hi","type":"quantitative"},"text":{"field":"s"}}},
{"data":{"values":[{"g":"STD Veh","g2":"STD Veh","m":"STD Veh","lab":"STD","top":2.5},{"g":"HFD Veh","g2":"SLV319","m":"JD5037","lab":"HFD","top":2.5}]},
"layer":[
{"mark":{"type":"rule","xOffset":-7.5,"x2Offset":7.5},"encoding":{"x2":{"field":"g2"},"y":{"field":"top","type":"quantitative"}}},
{"mark":{"type":"text","baseline":"alphabetic","dy":-6,"fontSize":8},"encoding":{"x":{"field":"m","type":"nominal","scale":{"domain":["STD Veh","HFD Veh","JD5037","SLV319"]}},"y":{"field":"top","type":"quantitative"},"text":{"field":"lab"}}}]}
]}
],"spacing":55,"bounds":"flush"},
{"spacing":8,"vconcat":[
{"hconcat":[
{"width":78,"height":120,"title":{"text":"J","dx":-32,"offset":-2.4},
"data":{"values":[{"g":"STD Veh","v":91,"hi":98,"s":""},{"g":"HFD Veh","v":131,"hi":137,"s":"*"},{"g":"JD5037","v":104,"hi":111,"s":"#"},{"g":"SLV319","v":103,"hi":113,"s":"#"}]},
"encoding":{
"x":{"field":"g","type":"nominal","scale":{"domain":["STD Veh","HFD Veh","JD5037","SLV319"],"paddingInner":0.25,"paddingOuter":0.075},"axis":{"title":null,"labelExpr":"indexof(datum.label,'Veh')>=0?'Veh':datum.label"}},
"y":{"field":"v","type":"quantitative","scale":{"domain":[0,150],"nice":false},"axis":{"values":[0,50,100,150],"title":"Glucose (mg/dL)"}}},
"layer":[
{"mark":"rule","encoding":{"y2":{"field":"hi"}}},
{"mark":{"type":"tick","size":7,"thickness":1},"encoding":{"y":{"field":"hi","type":"quantitative"}}},
{"mark":"bar","encoding":{"fill":{"condition":[{"test":"datum.g=='JD5037'","value":"#000"},{"test":"datum.g=='SLV319'","value":"#9b9b9b"}],"value":"#fff"}}},
{"transform":[{"filter":"datum.g=='HFD Veh'"}],"mark":{"type":"bar","fill":{"expr":"h30"}}},
{"transform":[{"filter":"datum.s=='*'"}],"mark":{"type":"text","baseline":"alphabetic","dy":4,"fontSize":15},"encoding":{"y":{"field":"hi","type":"quantitative"},"text":{"field":"s"}}},
{"transform":[{"filter":"datum.s!='*' && datum.s!=''"}],"mark":{"type":"text","baseline":"alphabetic","dy":-2,"fontSize":12},"encoding":{"y":{"field":"hi","type":"quantitative"},"text":{"field":"s"}}},
{"data":{"values":[{"g":"STD Veh","g2":"STD Veh","m":"STD Veh","lab":"STD","top":150},{"g":"HFD Veh","g2":"SLV319","m":"JD5037","lab":"HFD","top":150}]},
"layer":[
{"mark":{"type":"rule","xOffset":-7.5,"x2Offset":7.5},"encoding":{"x2":{"field":"g2"},"y":{"field":"top","type":"quantitative"}}},
{"mark":{"type":"text","baseline":"alphabetic","dy":-6,"fontSize":8},"encoding":{"x":{"field":"m","type":"nominal","scale":{"domain":["STD Veh","HFD Veh","JD5037","SLV319"]}},"y":{"field":"top","type":"quantitative"},"text":{"field":"lab"}}}]}
]},
{"width":78,"height":120,"title":{"text":"K","dx":-31,"offset":-3.4},
"data":{"values":[{"g":"STD Veh","v":1.45,"hi":1.65,"s":""},{"g":"HFD Veh","v":15.0,"hi":16.1,"s":"*"},{"g":"JD5037","v":4.6,"hi":5.6,"s":"*#"},{"g":"SLV319","v":3.5,"hi":4.4,"s":"*#"}]},
"encoding":{
"x":{"field":"g","type":"nominal","scale":{"domain":["STD Veh","HFD Veh","JD5037","SLV319"],"paddingInner":0.25,"paddingOuter":0.075},"axis":{"title":null,"labelExpr":"indexof(datum.label,'Veh')>=0?'Veh':datum.label"}},
"y":{"field":"v","type":"quantitative","scale":{"domain":[0,20],"nice":false},"axis":{"values":[0,5,10,15,20],"title":"Insulin (ng/mL)"}}},
"layer":[
{"mark":"rule","encoding":{"y2":{"field":"hi"}}},
{"mark":{"type":"tick","size":7,"thickness":1},"encoding":{"y":{"field":"hi","type":"quantitative"}}},
{"mark":"bar","encoding":{"fill":{"condition":[{"test":"datum.g=='JD5037'","value":"#000"},{"test":"datum.g=='SLV319'","value":"#9b9b9b"}],"value":"#fff"}}},
{"transform":[{"filter":"datum.g=='HFD Veh'"}],"mark":{"type":"bar","fill":{"expr":"h30"}}},
{"transform":[{"filter":"datum.s=='*'"}],"mark":{"type":"text","baseline":"alphabetic","dy":4,"fontSize":15},"encoding":{"y":{"field":"hi","type":"quantitative"},"text":{"field":"s"}}},
{"transform":[{"filter":"datum.s!='*' && datum.s!=''"}],"mark":{"type":"text","baseline":"alphabetic","dy":-2,"fontSize":12},"encoding":{"y":{"field":"hi","type":"quantitative"},"text":{"field":"s"}}},
{"data":{"values":[{"g":"STD Veh","g2":"STD Veh","m":"STD Veh","lab":"STD","top":20},{"g":"HFD Veh","g2":"SLV319","m":"JD5037","lab":"HFD","top":20}]},
"layer":[
{"mark":{"type":"rule","xOffset":-7.5,"x2Offset":7.5},"encoding":{"x2":{"field":"g2"},"y":{"field":"top","type":"quantitative"}}},
{"mark":{"type":"text","baseline":"alphabetic","dy":-6,"fontSize":8},"encoding":{"x":{"field":"m","type":"nominal","scale":{"domain":["STD Veh","HFD Veh","JD5037","SLV319"]}},"y":{"field":"top","type":"quantitative"},"text":{"field":"lab"}}}]}
]},
{"width":81,"height":120,"title":{"text":"L","dx":-34,"offset":6},
"data":{"values":[
{"k":"STD-veh","t":0,"v":115,"lo":107,"hi":123},{"k":"STD-veh","t":15,"v":365,"lo":345,"hi":385},{"k":"STD-veh","t":30,"v":300,"lo":290,"hi":310},{"k":"STD-veh","t":45,"v":285,"lo":270,"hi":300},{"k":"STD-veh","t":60,"v":245,"lo":233,"hi":257},{"k":"STD-veh","t":90,"v":172,"lo":162,"hi":182},{"k":"STD-veh","t":120,"v":113,"lo":105,"hi":121},
{"k":"HFD-veh","t":0,"v":130,"lo":120,"hi":140,"s":"*"},{"k":"HFD-veh","t":15,"v":395,"lo":380,"hi":410},{"k":"HFD-veh","t":30,"v":480,"lo":455,"hi":505,"s":"*"},{"k":"HFD-veh","t":45,"v":400,"lo":382,"hi":418,"s":"*"},{"k":"HFD-veh","t":60,"v":352,"lo":332,"hi":372,"s":"*"},{"k":"HFD-veh","t":90,"v":260,"lo":242,"hi":278,"s":"*"},{"k":"HFD-veh","t":120,"v":218,"lo":203,"hi":233,"s":"*"},
{"k":"HFD-SLV319","t":0,"v":108,"lo":98,"hi":118},{"k":"HFD-SLV319","t":15,"v":345,"lo":315,"hi":375},{"k":"HFD-SLV319","t":30,"v":385,"lo":370,"hi":400},{"k":"HFD-SLV319","t":45,"v":340,"lo":325,"hi":355},{"k":"HFD-SLV319","t":60,"v":288,"lo":276,"hi":300},{"k":"HFD-SLV319","t":90,"v":190,"lo":180,"hi":200},{"k":"HFD-SLV319","t":120,"v":157,"lo":145,"hi":169},
{"k":"HFD-JD5037","t":0,"v":105,"lo":95,"hi":115},{"k":"HFD-JD5037","t":15,"v":370,"lo":350,"hi":390},{"k":"HFD-JD5037","t":30,"v":400,"lo":385,"hi":415},{"k":"HFD-JD5037","t":45,"v":325,"lo":310,"hi":340},{"k":"HFD-JD5037","t":60,"v":283,"lo":271,"hi":295},{"k":"HFD-JD5037","t":90,"v":200,"lo":190,"hi":210},{"k":"HFD-JD5037","t":120,"v":165,"lo":153,"hi":177}
]},
"encoding":{
"x":{"field":"t","type":"quantitative","scale":{"domain":[0,128],"nice":false},"axis":{"values":[0,30,60,90,120],"title":"post-glucose (min)"}},
"y":{"field":"v","type":"quantitative","scale":{"domain":[0,600],"nice":false},"axis":{"values":[0,200,400,600],"title":"Glucose (mg/dL)"}}},
"layer":[
{"mark":{"type":"line","color":"#333","strokeWidth":1},"encoding":{"detail":{"field":"k"}}},
{"mark":{"type":"errorbar","ticks":true,"size":5,"thickness":0.8,"color":"#555"},"encoding":{"y":{"field":"lo","type":"quantitative"},"y2":{"field":"hi"}}},
{"mark":{"type":"point","filled":true,"size":36,"stroke":"#333","strokeWidth":0.8,"opacity":1},"encoding":{
"fill":{"field":"k","type":"nominal","scale":{"domain":["STD-veh","HFD-JD5037","HFD-veh","HFD-SLV319"],"range":["#ffffff","#e4151c","#f8f6a6","#888888"]},"legend":null},
"shape":{"field":"k","type":"nominal","scale":{"domain":["STD-veh","HFD-JD5037","HFD-veh","HFD-SLV319"],"range":["circle","triangle-down","circle","square"]},"legend":null}}},
{"transform":[{"filter":"datum.s=='*' && datum.t>0"}],"mark":{"type":"text","baseline":"alphabetic","dy":4,"fontSize":15},"encoding":{"y":{"field":"hi","type":"quantitative"},"text":{"field":"s"}}},
{"transform":[{"filter":"datum.s=='*' && datum.t==0"}],"mark":{"type":"text","baseline":"middle","dx":8,"dy":4,"fontSize":15},"encoding":{"text":{"field":"s"}}}
]},
{"width":81,"height":120,"title":{"text":"M","dx":-43,"offset":6},
"data":{"values":[
{"k":"STD-veh","t":0,"v":100,"lo":100,"hi":100},{"k":"STD-veh","t":15,"v":72,"lo":67,"hi":77},{"k":"STD-veh","t":30,"v":60,"lo":57,"hi":63},{"k":"STD-veh","t":45,"v":55,"lo":52,"hi":58},{"k":"STD-veh","t":60,"v":67,"lo":62,"hi":72},{"k":"STD-veh","t":90,"v":78,"lo":73,"hi":83},{"k":"STD-veh","t":120,"v":83,"lo":79,"hi":87},
{"k":"HFD-veh","t":0,"v":100,"lo":100,"hi":100},{"k":"HFD-veh","t":15,"v":94.5,"lo":84.5,"hi":104.5,"s":"*"},{"k":"HFD-veh","t":30,"v":82,"lo":74,"hi":90,"s":"*"},{"k":"HFD-veh","t":45,"v":75.5,"lo":71.5,"hi":79.5,"s":"*"},{"k":"HFD-veh","t":60,"v":87,"lo":82,"hi":92,"s":"*"},{"k":"HFD-veh","t":90,"v":95.5,"lo":91.5,"hi":99.5,"s":"*"},{"k":"HFD-veh","t":120,"v":98,"lo":93,"hi":103,"s":"*"},
{"k":"HFD-SLV319","t":0,"v":100,"lo":100,"hi":100},{"k":"HFD-SLV319","t":15,"v":74,"lo":68,"hi":80},{"k":"HFD-SLV319","t":30,"v":52,"lo":49,"hi":55},{"k":"HFD-SLV319","t":45,"v":57,"lo":53,"hi":61},{"k":"HFD-SLV319","t":60,"v":67,"lo":60,"hi":74},{"k":"HFD-SLV319","t":90,"v":74,"lo":66,"hi":82},{"k":"HFD-SLV319","t":120,"v":84,"lo":79,"hi":89},
{"k":"HFD-JD5037","t":0,"v":100,"lo":100,"hi":100},{"k":"HFD-JD5037","t":15,"v":71,"lo":65,"hi":77},{"k":"HFD-JD5037","t":30,"v":54,"lo":50,"hi":58},{"k":"HFD-JD5037","t":45,"v":53,"lo":50,"hi":56},{"k":"HFD-JD5037","t":60,"v":67,"lo":62,"hi":72},{"k":"HFD-JD5037","t":90,"v":72,"lo":66,"hi":78},{"k":"HFD-JD5037","t":120,"v":87,"lo":83,"hi":91}
]},
"encoding":{
"x":{"field":"t","type":"quantitative","scale":{"domain":[0,128],"nice":false},"axis":{"values":[0,30,60,90,120],"title":"post-insulin (min)"}},
"y":{"field":"v","type":"quantitative","scale":{"domain":[20,120],"nice":false,"zero":false},"axis":{"values":[20,40,60,80,100,120],"title":"Glucose (%)"}}},
"layer":[
{"mark":{"type":"line","color":"#333","strokeWidth":1},"encoding":{"detail":{"field":"k"}}},
{"mark":{"type":"errorbar","ticks":true,"size":5,"thickness":0.8,"color":"#555"},"encoding":{"y":{"field":"lo","type":"quantitative"},"y2":{"field":"hi"}}},
{"mark":{"type":"point","filled":true,"size":36,"stroke":"#333","strokeWidth":0.8,"opacity":1},"encoding":{
"fill":{"field":"k","type":"nominal","scale":{"domain":["STD-veh","HFD-JD5037","HFD-veh","HFD-SLV319"],"range":["#ffffff","#e4151c","#f8f6a6","#888888"]},"legend":null},
"shape":{"field":"k","type":"nominal","scale":{"domain":["STD-veh","HFD-JD5037","HFD-veh","HFD-SLV319"],"range":["circle","triangle-down","circle","square"]},"legend":null}}},
{"transform":[{"filter":"datum.s=='*'"}],"mark":{"type":"text","baseline":"alphabetic","dy":4,"fontSize":15},"encoding":{"y":{"field":"hi","type":"quantitative"},"text":{"field":"s"}}}
]}
],"spacing":54,"bounds":"flush"},
{"hconcat":[
{"width":78,"height":120,"title":{"text":"N","dx":-30,"offset":3.6},
"data":{"values":[{"g":"STD Veh","v":2.7,"hi":3.3,"s":""},{"g":"HFD Veh","v":19.0,"hi":20.6,"s":"*"},{"g":"JD5037","v":4.0,"hi":4.3,"s":"#"},{"g":"SLV319","v":3.5,"hi":4.4,"s":"#"}]},
"encoding":{
"x":{"field":"g","type":"nominal","scale":{"domain":["STD Veh","HFD Veh","JD5037","SLV319"],"paddingInner":0.25,"paddingOuter":0.075},"axis":{"title":null,"labelExpr":"indexof(datum.label,'Veh')>=0?'Veh':datum.label"}},
"y":{"field":"v","type":"quantitative","scale":{"domain":[0,25],"nice":false},"axis":{"values":[0,5,10,15,20,25],"title":"Leptin (ng/mL)"}}},
"layer":[
{"mark":"rule","encoding":{"y2":{"field":"hi"}}},
{"mark":{"type":"tick","size":7,"thickness":1},"encoding":{"y":{"field":"hi","type":"quantitative"}}},
{"mark":"bar","encoding":{"fill":{"condition":[{"test":"datum.g=='JD5037'","value":"#000"},{"test":"datum.g=='SLV319'","value":"#9b9b9b"}],"value":"#fff"}}},
{"transform":[{"filter":"datum.g=='HFD Veh'"}],"mark":{"type":"bar","fill":{"expr":"h30"}}},
{"transform":[{"filter":"datum.s=='*'"}],"mark":{"type":"text","baseline":"alphabetic","dy":4,"fontSize":15},"encoding":{"y":{"field":"hi","type":"quantitative"},"text":{"field":"s"}}},
{"transform":[{"filter":"datum.s!='*' && datum.s!=''"}],"mark":{"type":"text","baseline":"alphabetic","dy":-2,"fontSize":12},"encoding":{"y":{"field":"hi","type":"quantitative"},"text":{"field":"s"}}},
{"data":{"values":[{"g":"STD Veh","g2":"STD Veh","m":"STD Veh","lab":"STD","top":25},{"g":"HFD Veh","g2":"SLV319","m":"JD5037","lab":"HFD","top":25}]},
"layer":[
{"mark":{"type":"rule","xOffset":-7.5,"x2Offset":7.5},"encoding":{"x2":{"field":"g2"},"y":{"field":"top","type":"quantitative"}}},
{"mark":{"type":"text","baseline":"alphabetic","dy":-6,"fontSize":8},"encoding":{"x":{"field":"m","type":"nominal","scale":{"domain":["STD Veh","HFD Veh","JD5037","SLV319"]}},"y":{"field":"top","type":"quantitative"},"text":{"field":"lab"}}}]}
]},
{"width":78,"height":120,"title":{"text":"O","dx":-33,"offset":0.6},
"data":{"values":[{"g":"STD Veh","v":38.3,"hi":41.1,"s":""},{"g":"HFD Veh","v":25.8,"hi":27.8,"s":"*"},{"g":"JD5037","v":44.5,"hi":46.8,"s":"#"},{"g":"SLV319","v":39.8,"hi":43.0,"s":"#"}]},
"encoding":{
"x":{"field":"g","type":"nominal","scale":{"domain":["STD Veh","HFD Veh","JD5037","SLV319"],"paddingInner":0.25,"paddingOuter":0.075},"axis":{"title":null,"labelExpr":"indexof(datum.label,'Veh')>=0?'Veh':datum.label"}},
"y":{"field":"v","type":"quantitative","scale":{"domain":[0,50],"nice":false},"axis":{"values":[0,10,20,30,40,50],"title":"Adiponectin (µg/mL)"}}},
"layer":[
{"mark":"rule","encoding":{"y2":{"field":"hi"}}},
{"mark":{"type":"tick","size":7,"thickness":1},"encoding":{"y":{"field":"hi","type":"quantitative"}}},
{"mark":"bar","encoding":{"fill":{"condition":[{"test":"datum.g=='JD5037'","value":"#000"},{"test":"datum.g=='SLV319'","value":"#9b9b9b"}],"value":"#fff"}}},
{"transform":[{"filter":"datum.g=='HFD Veh'"}],"mark":{"type":"bar","fill":{"expr":"h20"}}},
{"transform":[{"filter":"datum.s=='*'"}],"mark":{"type":"text","baseline":"alphabetic","dy":4,"fontSize":15},"encoding":{"y":{"field":"hi","type":"quantitative"},"text":{"field":"s"}}},
{"transform":[{"filter":"datum.s!='*' && datum.s!=''"}],"mark":{"type":"text","baseline":"alphabetic","dy":-1,"fontSize":12},"encoding":{"y":{"field":"hi","type":"quantitative"},"text":{"field":"s"}}},
{"data":{"values":[{"g":"STD Veh","g2":"STD Veh","m":"STD Veh","lab":"STD","top":50},{"g":"HFD Veh","g2":"SLV319","m":"JD5037","lab":"HFD","top":50}]},
"layer":[
{"mark":{"type":"rule","xOffset":-7.5,"x2Offset":7.5},"encoding":{"x2":{"field":"g2"},"y":{"field":"top","type":"quantitative"}}},
{"mark":{"type":"text","baseline":"alphabetic","dy":-6,"fontSize":8},"encoding":{"x":{"field":"m","type":"nominal","scale":{"domain":["STD Veh","HFD Veh","JD5037","SLV319"]}},"y":{"field":"top","type":"quantitative"},"text":{"field":"lab"}}}]}
]},
{"width":78,"height":120,"title":{"text":"P","dx":-36,"offset":3.6},
"data":{"values":[{"g":"STD Veh","v":54,"hi":57,"s":""},{"g":"HFD Veh","v":71,"hi":73,"s":"*"},{"g":"JD5037","v":42.5,"hi":46.5,"s":"#"},{"g":"SLV319","v":52.5,"hi":58,"s":"#"}]},
"encoding":{
"x":{"field":"g","type":"nominal","scale":{"domain":["STD Veh","HFD Veh","JD5037","SLV319"],"paddingInner":0.25,"paddingOuter":0.075},"axis":{"title":null,"labelExpr":"indexof(datum.label,'Veh')>=0?'Veh':datum.label"}},
"y":{"field":"v","type":"quantitative","scale":{"domain":[0,80],"nice":false},"axis":{"values":[0,20,40,60,80],"title":"Triglyceride (mg/dL)"}}},
"layer":[
{"mark":"rule","encoding":{"y2":{"field":"hi"}}},
{"mark":{"type":"tick","size":7,"thickness":1},"encoding":{"y":{"field":"hi","type":"quantitative"}}},
{"mark":"bar","encoding":{"fill":{"condition":[{"test":"datum.g=='JD5037'","value":"#000"},{"test":"datum.g=='SLV319'","value":"#9b9b9b"}],"value":"#fff"}}},
{"transform":[{"filter":"datum.g=='HFD Veh'"}],"mark":{"type":"bar","fill":{"expr":"h30"}}},
{"transform":[{"filter":"datum.s=='*'"}],"mark":{"type":"text","baseline":"alphabetic","dy":4,"fontSize":15},"encoding":{"y":{"field":"hi","type":"quantitative"},"text":{"field":"s"}}},
{"transform":[{"filter":"datum.s!='*' && datum.s!=''"}],"mark":{"type":"text","baseline":"alphabetic","dy":-2,"fontSize":12},"encoding":{"y":{"field":"hi","type":"quantitative"},"text":{"field":"s"}}},
{"data":{"values":[{"g":"STD Veh","g2":"STD Veh","m":"STD Veh","lab":"STD","top":80},{"g":"HFD Veh","g2":"SLV319","m":"JD5037","lab":"HFD","top":80}]},
"layer":[
{"mark":{"type":"rule","xOffset":-7.5,"x2Offset":7.5},"encoding":{"x2":{"field":"g2"},"y":{"field":"top","type":"quantitative"}}},
{"mark":{"type":"text","baseline":"alphabetic","dy":-6,"fontSize":8},"encoding":{"x":{"field":"m","type":"nominal","scale":{"domain":["STD Veh","HFD Veh","JD5037","SLV319"]}},"y":{"field":"top","type":"quantitative"},"text":{"field":"lab"}}}]}
]},
{"width":78,"height":120,"title":{"text":"Q","dx":-32,"offset":1.6},
"data":{"values":[{"g":"STD Veh","v":2.47,"hi":2.61,"s":""},{"g":"HFD Veh","v":1.53,"hi":1.56,"s":"*"},{"g":"JD5037","v":2.2,"hi":2.26,"s":"#"},{"g":"SLV319","v":2.2,"hi":2.3,"s":"#"}]},
"encoding":{
"x":{"field":"g","type":"nominal","scale":{"domain":["STD Veh","HFD Veh","JD5037","SLV319"],"paddingInner":0.25,"paddingOuter":0.075},"axis":{"title":null,"labelExpr":"indexof(datum.label,'Veh')>=0?'Veh':datum.label"}},
"y":{"field":"v","type":"quantitative","scale":{"domain":[0,3],"nice":false},"axis":{"values":[0,1,2,3],"title":"HDL/LDL Cholesterol ratio"}}},
"layer":[
{"mark":"rule","encoding":{"y2":{"field":"hi"}}},
{"mark":{"type":"tick","size":7,"thickness":1},"encoding":{"y":{"field":"hi","type":"quantitative"}}},
{"mark":"bar","encoding":{"fill":{"condition":[{"test":"datum.g=='JD5037'","value":"#000"},{"test":"datum.g=='SLV319'","value":"#9b9b9b"}],"value":"#fff"}}},
{"transform":[{"filter":"datum.g=='HFD Veh'"}],"mark":{"type":"bar","fill":{"expr":"h20"}}},
{"transform":[{"filter":"datum.s=='*'"}],"mark":{"type":"text","baseline":"alphabetic","dy":4,"fontSize":15},"encoding":{"y":{"field":"hi","type":"quantitative"},"text":{"field":"s"}}},
{"transform":[{"filter":"datum.s!='*' && datum.s!=''"}],"mark":{"type":"text","baseline":"alphabetic","dy":-2,"fontSize":12},"encoding":{"y":{"field":"hi","type":"quantitative"},"text":{"field":"s"}}},
{"data":{"values":[{"g":"STD Veh","g2":"STD Veh","m":"STD Veh","lab":"STD","top":3},{"g":"HFD Veh","g2":"SLV319","m":"JD5037","lab":"HFD","top":3}]},
"layer":[
{"mark":{"type":"rule","xOffset":-7.5,"x2Offset":7.5},"encoding":{"x2":{"field":"g2"},"y":{"field":"top","type":"quantitative"}}},
{"mark":{"type":"text","baseline":"alphabetic","dy":-6,"fontSize":8},"encoding":{"x":{"field":"m","type":"nominal","scale":{"domain":["STD Veh","HFD Veh","JD5037","SLV319"]}},"y":{"field":"top","type":"quantitative"},"text":{"field":"lab"}}}]}
]}
],"spacing":55,"bounds":"flush"}
]}
]}
]}
]
}
